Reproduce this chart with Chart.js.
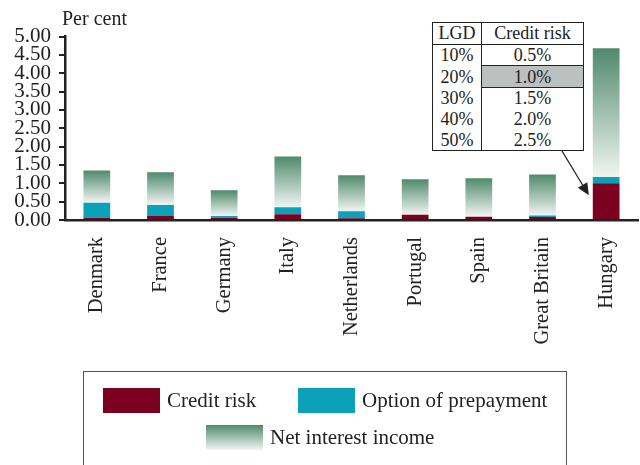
<!DOCTYPE html>
<html>
<head>
<meta charset="utf-8">
<script src="https://cdn.jsdelivr.net/npm/chart.js@4.4.1/dist/chart.umd.min.js"></script>
<style>
  html, body { margin: 0; padding: 0; background: #fff; }
  #wrap { position: relative; width: 640px; height: 465px; overflow: hidden;
          font-family: "Liberation Serif", "DejaVu Serif", serif; color: #222; }
  #chart { position: absolute; left: 0; top: 0; }
  #unit { position: absolute; left: 62px; top: 6px; font-size: 20px; line-height: 24px; }
  #lgd { position: absolute; left: 83px; top: 371px; width: 482px; height: 110px;
         border: 1.5px solid #555; border-bottom: none; }
  .item { position: absolute; font-size: 21px; line-height: 25px; white-space: nowrap; }
  .sw { display: inline-block; width: 57px; height: 25px; vertical-align: top; margin-right: 7px; }
  #lgd-table { position: absolute; left: 432px; top: 22px; border-collapse: collapse;
               font-size: 18px; background: #fff; }
  #lgd-table td { border-left: 1.5px solid #222; border-right: 1.5px solid #222;
                  padding: 0; height: 20.7px; line-height: 20px; text-align: center; }
  #lgd-table tr.head td { border-bottom: 1.5px solid #222; border-top: 1.5px solid #222; }
  #lgd-table tr:last-child td { border-bottom: 1.5px solid #222; }
  #lgd-table td.c1 { width: 48px; }
  #lgd-table td.c2 { width: 101px; }
  #lgd-table td.hl { background: #bcc1bf; border: 1.5px solid #222; }
</style>
</head>
<body>
<div id="wrap">
  <canvas id="chart" width="640" height="465"></canvas>
  <div id="unit">Per cent</div>
  <table id="lgd-table"></table>
  <div id="lgd"></div>
</div>
<script>
// Countries and the three stacked components (per cent)
const countries = ["Denmark", "France", "Germany", "Italy", "Netherlands",
                   "Portugal", "Spain", "Great Britain", "Hungary"];
const creditRisk = [0.06, 0.11, 0.06, 0.16, 0.05, 0.14, 0.09, 0.08, 1.00];
const prepaymentOption = [0.41, 0.30, 0.05, 0.19, 0.19, 0.00, 0.00, 0.04, 0.17];
const netInterestIncome = [0.88, 0.89, 0.70, 1.38, 0.98, 0.97, 1.05, 1.12, 3.51];
const yTicks = [0, 0.5, 1, 1.5, 2, 2.5, 3, 3.5, 4, 4.5, 5];

// Credit risk sensitivity to loss given default
const lgdLevels = ["10%", "20%", "30%", "40%", "50%"];
const lgdCreditRisk = ["0.5%", "1.0%", "1.5%", "2.0%", "2.5%"];
const lgdSelected = 1;

const RED = "#7c0020";
const TEAL = "#0aa1b9";
const GREEN_TOP = "#4f8a6d";
const GREEN_BOTTOM = "#f1f5f2";
const INK = "#222";
const FONT = "'Liberation Serif', 'DejaVu Serif', serif";

// Inset table
const tbl = document.getElementById("lgd-table");
let html = '<tr class="head"><td class="c1">LGD</td><td class="c2">Credit risk</td></tr>';
lgdLevels.forEach((l, i) => {
  html += '<tr><td class="c1">' + l + '</td><td class="c2' + (i === lgdSelected ? ' hl' : '') + '">' +
          lgdCreditRisk[i] + '</td></tr>';
});
tbl.innerHTML = html;

// Legend box
const lgd = document.getElementById("lgd");
const legendItems = [
  { label: "Credit risk", fill: RED, left: 19, top: 16 },
  { label: "Option of prepayment", fill: TEAL, left: 214, top: 16 },
  { label: "Net interest income", fill: "linear-gradient(" + GREEN_TOP + ", " + GREEN_BOTTOM + ")", left: 122, top: 53 }
];
legendItems.forEach(it => {
  const d = document.createElement("div");
  d.className = "item";
  d.style.left = it.left + "px";
  d.style.top = it.top + "px";
  d.innerHTML = '<span class="sw" style="background:' + it.fill + '"></span>' + it.label;
  lgd.appendChild(d);
});

// Vertical gradient spanning each net-interest-income segment
function niiFill(ctx) {
  const chart = ctx.chart;
  const y = chart.scales && chart.scales.y;
  if (!chart.chartArea || !y || ctx.type !== "data") return GREEN_TOP;
  const i = ctx.dataIndex;
  const base = creditRisk[i] + prepaymentOption[i];
  const top = base + netInterestIncome[i];
  const g = chart.ctx.createLinearGradient(0, y.getPixelForValue(top), 0, y.getPixelForValue(base));
  g.addColorStop(0, GREEN_TOP);
  g.addColorStop(1, GREEN_BOTTOM);
  return g;
}

// Arrow from the inset table to the Hungary bar
const arrowPlugin = {
  id: "arrow",
  afterDatasetsDraw(chart) {
    const meta = chart.getDatasetMeta(0);
    const bar = meta.data[countries.length - 1];
    if (!bar) return;
    const c = chart.ctx;
    const x1 = 559, y1 = 146;
    const x2 = bar.x - bar.width / 2 - 4;
    const y2 = chart.scales.y.getPixelForValue(creditRisk[countries.length - 1]) + 12;
    const ang = Math.atan2(y2 - y1, x2 - x1);
    const hl = 12, hw = 5.5;
    c.save();
    c.strokeStyle = INK;
    c.fillStyle = INK;
    c.lineWidth = 1.3;
    c.beginPath();
    c.moveTo(x1, y1);
    c.lineTo(x2 - hl * Math.cos(ang), y2 - hl * Math.sin(ang));
    c.stroke();
    c.beginPath();
    c.moveTo(x2, y2);
    c.lineTo(x2 - hl * Math.cos(ang) + hw * Math.sin(ang), y2 - hl * Math.sin(ang) - hw * Math.cos(ang));
    c.lineTo(x2 - hl * Math.cos(ang) - hw * Math.sin(ang), y2 - hl * Math.sin(ang) + hw * Math.cos(ang));
    c.closePath();
    c.fill();
    c.restore();
  }
};

const barOpts = { barPercentage: 0.42, categoryPercentage: 1.0, borderWidth: 0 };

new Chart(document.getElementById("chart"), {
  type: "bar",
  data: {
    labels: countries,
    datasets: [
      Object.assign({ label: "Credit risk", data: creditRisk, backgroundColor: RED }, barOpts),
      Object.assign({ label: "Option of prepayment", data: prepaymentOption, backgroundColor: TEAL }, barOpts),
      Object.assign({ label: "Net interest income", data: netInterestIncome, backgroundColor: niiFill }, barOpts)
    ]
  },
  options: {
    responsive: false,
    animation: false,
    layout: { padding: { top: 36.5, right: 2, left: 0, bottom: 0 } },
    plugins: { legend: { display: false }, tooltip: { enabled: false } },
    scales: {
      x: {
        stacked: true,
        grid: { display: false },
        border: { display: true, color: INK, width: 2.5 },
        ticks: {
          color: INK, font: { family: FONT, size: 20.5 },
          minRotation: 90, maxRotation: 90, padding: 9, autoSkip: false
        },
        afterFit(scale) { scale.height = 245; }
      },
      y: {
        stacked: true,
        min: 0, max: 5,
        afterBuildTicks(scale) { scale.ticks = yTicks.map(v => ({ value: v })); },
        grid: { drawOnChartArea: false, drawTicks: true, tickLength: 6, color: INK, lineWidth: 2 },
        border: { display: true, color: INK, width: 2.5 },
        ticks: {
          color: INK, font: { family: FONT, size: 21, lineHeight: 1 }, padding: 8, autoSkip: false,
          callback: v => Number(v).toFixed(2)
        },
        afterFit(scale) { scale.width = 65; }
      }
    }
  },
  plugins: [arrowPlugin]
});
</script>
</body>
</html>
